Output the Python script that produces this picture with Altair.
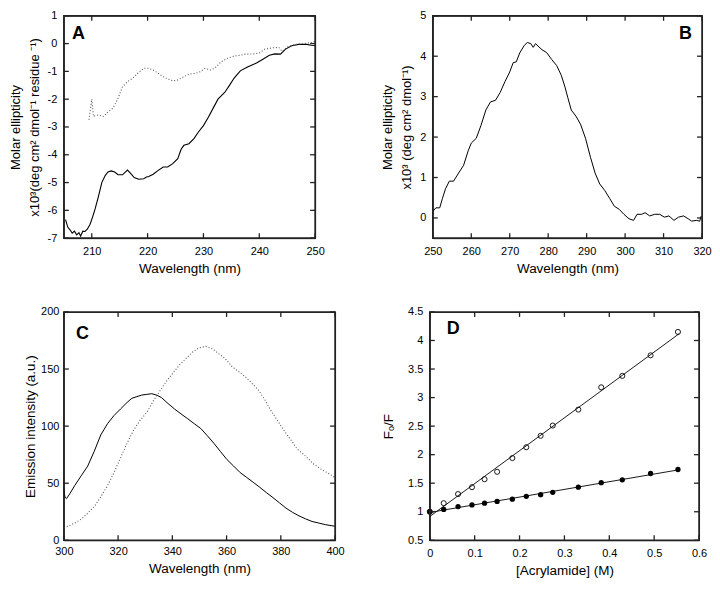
import altair as alt
import pandas as pd

# ---------------- Panel A (far-UV CD) ----------------
a_wl_solid = [205.3, 205.7, 206.1, 206.5, 206.9, 207.3, 207.7, 208.0, 208.4, 208.8, 209.2, 209.7,
              210.1, 210.6, 211.2, 211.8, 212.4, 212.9, 213.5, 214.1, 214.7, 215.5, 216.4, 217.0,
              217.6, 218.4, 219.3, 219.8, 220.2, 221.0, 221.9, 222.8, 223.6, 224.5, 225.4, 226.0,
              226.5, 227.4, 228.3, 229.1, 230.0, 230.9, 231.7, 232.6, 233.8, 234.6, 235.5, 236.6,
              237.8, 238.9, 239.5, 240.5, 241.8, 242.8, 243.8, 244.7, 245.8, 247.0, 248.5, 249.3, 250.0]
a_val_solid = [-6.33, -6.6, -6.7, -6.82, -6.75, -6.88, -6.8, -6.93, -6.75, -6.76, -6.68, -6.5,
               -6.27, -5.95, -5.5, -5.0, -4.75, -4.62, -4.58, -4.62, -4.72, -4.72, -4.55, -4.68,
               -4.82, -4.88, -4.86, -4.8, -4.78, -4.7, -4.56, -4.44, -4.44, -4.32, -4.14, -3.8,
               -3.66, -3.6, -3.42, -3.18, -2.95, -2.64, -2.34, -2.0, -1.76, -1.52, -1.24, -0.98,
               -0.85, -0.75, -0.7, -0.58, -0.42, -0.37, -0.38, -0.2, -0.08, -0.03, -0.03, -0.06, -0.07]
a_wl_dot = [209.5, 210.0, 210.3, 211.2, 212.1, 213.0, 213.8, 214.7, 215.5, 216.4, 217.3, 218.2,
            219.3, 220.2, 221.0, 221.9, 222.8, 223.6, 224.5, 225.4, 226.2, 227.4, 228.6, 229.4,
            230.3, 231.2, 232.0, 233.2, 234.3, 235.5, 236.6, 237.5, 239.0, 240.0, 241.0, 242.5,
            243.5, 244.1, 245.0, 246.5, 248.0, 249.0, 250.0]
a_val_dot = [-2.74, -2.0, -2.62, -2.56, -2.62, -2.44, -2.32, -1.97, -1.55, -1.37, -1.25, -1.07,
             -0.89, -0.89, -0.95, -1.07, -1.19, -1.27, -1.34, -1.31, -1.22, -1.1, -1.07, -1.01,
             -0.89, -0.95, -0.89, -0.65, -0.53, -0.45, -0.42, -0.38, -0.37, -0.34, -0.2, -0.15,
             -0.14, -0.28, -0.12, -0.03, 0.0, 0.03, 0.08]

# ---------------- Panel B (near-UV CD) ----------------
b_wl = [250.0, 250.8, 251.8, 252.5, 253.3, 254.3, 255.4, 256.7, 258.0, 259.2, 260.0, 261.3,
        262.5, 263.8, 265.0, 266.3, 267.5, 268.8, 270.0, 270.9, 271.7, 272.6, 273.8, 274.6,
        275.5, 276.1, 276.7, 277.6, 278.4, 279.6, 280.9, 282.2, 283.4, 284.3, 285.1, 286.0,
        287.2, 288.4, 289.7, 291.0, 292.2, 293.4, 294.7, 296.0, 297.2, 298.5, 299.7, 301.0,
        302.2, 303.1, 304.3, 305.2, 306.4, 307.7, 309.0, 310.2, 311.4, 312.7, 313.9, 315.2,
        316.4, 317.3, 318.5, 319.4, 319.8]
b_val = [0.16, 0.25, 0.25, 0.48, 0.72, 0.91, 0.91, 1.11, 1.3, 1.66, 1.85, 1.97,
         2.28, 2.67, 2.87, 2.91, 3.1, 3.38, 3.61, 3.84, 3.86, 4.08, 4.27, 4.34,
         4.31, 4.22, 4.31, 4.23, 4.16, 4.09, 3.92, 3.77, 3.53, 3.26, 2.98, 2.67,
         2.52, 2.32, 1.97, 1.5, 1.11, 0.84, 0.68, 0.48, 0.29, 0.21, 0.09, -0.02,
         -0.06, 0.09, 0.09, 0.13, 0.05, 0.09, 0.09, 0.02, 0.05, -0.06, 0.02, 0.05,
         -0.02, -0.08, -0.06, -0.08, 0.05]

# ---------------- Panel C (fluorescence emission) ----------------
c_wl_solid = [300.0, 300.4, 301.0, 302.2, 304.0, 306.4, 308.8, 311.2, 313.6, 316.1, 318.5, 320.9,
              323.3, 325.1, 326.9, 328.7, 330.6, 332.4, 334.2, 336.0, 338.4, 340.8, 343.2, 345.7,
              348.1, 350.5, 352.9, 355.3, 357.7, 360.1, 362.6, 365.0, 367.4, 369.8, 372.2, 374.6,
              377.1, 379.5, 381.9, 384.3, 386.7, 389.1, 391.5, 394.0, 396.4, 400.0]
c_val_solid = [45.1, 37.9, 36.5, 40.8, 47.9, 56.5, 65.0, 77.9, 92.2, 102.1, 109.3, 115.0,
               120.7, 124.4, 125.8, 127.2, 127.8, 128.4, 127.2, 125.0, 119.8, 115.0, 110.7, 106.4,
               102.1, 97.9, 91.6, 85.0, 77.9, 70.8, 65.0, 59.3, 55.1, 50.8, 46.5, 41.9,
               37.4, 32.8, 28.2, 24.5, 21.4, 18.8, 16.5, 15.1, 13.7, 12.3]
c_wl_dot = [300.0, 301.6, 304.0, 306.4, 308.8, 311.2, 313.6, 316.1, 318.5, 320.9, 323.3, 325.7,
            328.1, 330.6, 333.0, 335.4, 337.8, 340.2, 342.6, 345.0, 347.5, 349.9, 352.3, 354.7,
            357.1, 359.5, 362.0, 364.4, 366.8, 369.2, 371.6, 374.0, 376.5, 379.0, 381.5, 384.0,
            386.0, 389.0, 392.0, 395.0, 398.0, 400.0]
c_val_dot = [11.4, 12.3, 15.1, 18.5, 23.7, 29.4, 37.9, 47.9, 59.3, 72.2, 85.0, 96.4,
             105.0, 112.1, 122.1, 130.7, 139.2, 146.4, 153.5, 159.2, 164.9, 168.6, 169.8, 167.8,
             163.5, 159.2, 152.1, 147.8, 143.5, 137.8, 132.1, 123.5, 113.0, 104.0, 95.0, 87.0,
             80.0, 74.0, 67.0, 62.0, 58.0, 55.0]

# ---------------- Panel D (Stern-Volmer) ----------------
d_conc = [0.0, 0.031, 0.063, 0.094, 0.122, 0.150, 0.184, 0.215, 0.247, 0.274, 0.331, 0.382, 0.429, 0.492, 0.553]
d_open = [1.0, 1.15, 1.31, 1.43, 1.57, 1.70, 1.94, 2.13, 2.33, 2.51, 2.79, 3.18, 3.38, 3.74, 4.15]
d_filled = [1.0, 1.04, 1.09, 1.12, 1.15, 1.18, 1.22, 1.27, 1.30, 1.34, 1.43, 1.51, 1.56, 1.67, 1.74]

# ---------------- axis domains, ticks and labels ----------------
xa_dom, ya_dom = [205, 250], [-7, 1]
xb_dom, yb_dom = [250, 320], [-0.5, 5]
xc_dom, yc_dom = [300, 400], [0, 200]
xd_dom, yd_dom = [0, 0.6], [0.5, 4.5]
xa_t = [210, 220, 230, 240, 250]
ya_t = [-7, -6, -5, -4, -3, -2, -1, 0, 1]
xb_t = [250, 260, 270, 280, 290, 300, 310, 320]
yb_t = [0, 1, 2, 3, 4, 5]
xc_t = [300, 320, 340, 360, 380, 400]
yc_t = [0, 50, 100, 150, 200]
xd_t = [0, 0.1, 0.2, 0.3, 0.4, 0.5, 0.6]
yd_t = [0.5, 1, 1.5, 2, 2.5, 3, 3.5, 4, 4.5]

panel_letters = ["A", "B", "C", "D"]
letter_x = [207.6, 315.7, 306.9, 0.052]
letter_y = [0.34, 4.54, 181.0, 4.2]

FONT = "Liberation Sans"
LAB = 11
TIT = 13.5
PLAIN = "datum.value + ''"
TICK_PX = 5


def axis_main(orient, ticks, title, label_pad=7, title_pad=5, line_h=None, tsize=TIT):
    kw = dict(orient=orient, values=ticks, offset=0, ticks=False, domain=False, grid=False,
              labelPadding=label_pad, titlePadding=title_pad, labelFontSize=LAB,
              titleFontSize=tsize, titleFontWeight="normal", labelColor="black",
              titleColor="black", labelFont=FONT, titleFont=FONT,
              labelOverlap=False, labelFlush=False, labelExpr=PLAIN, minExtent=0,
              title=title)
    if line_h:
        kw["titleLineHeight"] = line_h
    return alt.Axis(**kw)


def furniture(i, xs, ys, xdom, ydom, xt, yt, W, H):
    """Frame and inward ticks drawn through the panel's own scales."""
    x0, x1 = xdom
    y0, y1 = ydom
    dx = TICK_PX / W * (x1 - x0)
    dy = TICK_PX / H * (y1 - y0)
    box_df = pd.DataFrame({"xa": [x0], "xb": [x1], "ya": [y0], "yb": [y1]})
    box = alt.Chart(box_df).mark_rect(fillOpacity=0, stroke="#222222", strokeWidth=1.6,
                                      strokeOpacity=1).encode(
        x=alt.X("xa:Q", scale=xs, axis=None), x2="xb:Q",
        y=alt.Y("ya:Q", scale=ys, axis=None), y2="yb:Q")
    rows = []
    k = 0
    for t in xt:
        rows += [(t, y0, k, 0), (t, y0 + dy, k, 1)]
        k += 1
        rows += [(t, y1, k, 0), (t, y1 - dy, k, 1)]
        k += 1
    for t in yt:
        rows += [(x0, t, k, 0), (x0 + dx, t, k, 1)]
        k += 1
        rows += [(x1, t, k, 0), (x1 - dx, t, k, 1)]
        k += 1
    tick_df = pd.DataFrame(rows, columns=["x", "y", "id", "o"])
    ticks = alt.Chart(tick_df).mark_line(color="#222222", strokeWidth=1.3).encode(
        x=alt.X("x:Q", scale=xs, axis=None), y=alt.Y("y:Q", scale=ys, axis=None),
        detail="id:N", order="o:Q")
    dfl = pd.DataFrame({"x": [letter_x[i]], "y": [letter_y[i]], "t": [panel_letters[i]]})
    letter = alt.Chart(dfl).mark_text(font=FONT, fontSize=18, fontWeight="bold", color="black").encode(
        x=alt.X("x:Q", scale=xs, axis=None), y=alt.Y("y:Q", scale=ys, axis=None), text="t:N")
    return [box, ticks, letter]


# ---- Panel A
WA, HA = 252, 223
xa = alt.Scale(domain=xa_dom, nice=False, zero=False)
ya = alt.Scale(domain=ya_dom, nice=False, zero=False)
dfa1 = pd.DataFrame({"wl": a_wl_solid, "v": a_val_solid})
dfa2 = pd.DataFrame({"wl": a_wl_dot, "v": a_val_dot})
A1 = alt.Chart(dfa1).mark_line(color="black", strokeWidth=1.1).encode(
    x=alt.X("wl:Q", scale=xa, axis=axis_main("bottom", xa_t, "Wavelength (nm)")),
    y=alt.Y("v:Q", scale=ya, axis=axis_main("left", ya_t,
            ["Molar ellipticity", "x10³(deg cm² dmol⁻¹ residue ⁻¹)"], title_pad=6, line_h=19, tsize=13)))
A2 = alt.Chart(dfa2).mark_line(color="#555555", strokeWidth=1.1, strokeDash=[1, 2]).encode(
    x=alt.X("wl:Q", scale=xa, axis=None), y=alt.Y("v:Q", scale=ya, axis=None))
chartA = alt.layer(A1, A2, *furniture(0, xa, ya, xa_dom, ya_dom, xa_t, ya_t, WA, HA)).resolve_axis(
    x="independent", y="independent").properties(width=WA, height=HA)

# ---- Panel B
WB, HB = 270, 223
xb = alt.Scale(domain=xb_dom, nice=False, zero=False)
yb = alt.Scale(domain=yb_dom, nice=False, zero=False)
dfb = pd.DataFrame({"wl": b_wl, "v": b_val})
B1 = alt.Chart(dfb).mark_line(color="black", strokeWidth=1.0).encode(
    x=alt.X("wl:Q", scale=xb, axis=axis_main("bottom", xb_t, "Wavelength (nm)")),
    y=alt.Y("v:Q", scale=yb, axis=axis_main("left", yb_t,
            ["Molar ellipticity", "x10³ (deg cm² dmol⁻¹)"], title_pad=6, line_h=19, tsize=13)))
chartB = alt.layer(B1, *furniture(1, xb, yb, xb_dom, yb_dom, xb_t, yb_t, WB, HB)).resolve_axis(
    x="independent", y="independent").properties(width=WB, height=HB)

# ---- Panel C
WC, HC = 272, 229
xc = alt.Scale(domain=xc_dom, nice=False, zero=False)
yc = alt.Scale(domain=yc_dom, nice=False, zero=False)
dfc1 = pd.DataFrame({"wl": c_wl_solid, "v": c_val_solid})
dfc2 = pd.DataFrame({"wl": c_wl_dot, "v": c_val_dot})
C1 = alt.Chart(dfc1).mark_line(color="black", strokeWidth=1.0).encode(
    x=alt.X("wl:Q", scale=xc, axis=axis_main("bottom", xc_t, "Wavelength (nm)", label_pad=5)),
    y=alt.Y("v:Q", scale=yc, axis=axis_main("left", yc_t, "Emission intensity (a.u.)",
                                             label_pad=5, title_pad=3)))
C2 = alt.Chart(dfc2).mark_line(color="#555555", strokeWidth=1.1, strokeDash=[1, 2]).encode(
    x=alt.X("wl:Q", scale=xc, axis=None), y=alt.Y("v:Q", scale=yc, axis=None))
chartC = alt.layer(C1, C2, *furniture(2, xc, yc, xc_dom, yc_dom, xc_t, yc_t, WC, HC)).resolve_axis(
    x="independent", y="independent").properties(width=WC, height=HC)

# ---- Panel D
WD, HD = 270, 229
xd = alt.Scale(domain=xd_dom, nice=False, zero=False)
yd = alt.Scale(domain=yd_dom, nice=False, zero=False)
dfd = pd.DataFrame({"c": d_conc, "open": d_open, "filled": d_filled})
D3 = alt.Chart(dfd).transform_regression("c", "open", extent=[0, 0.556]).mark_line(
    color="black", strokeWidth=0.9).encode(
    x=alt.X("c:Q", scale=xd, axis=axis_main("bottom", xd_t, "[Acrylamide] (M)", label_pad=7, title_pad=5)),
    y=alt.Y("open:Q", scale=yd, axis=axis_main("left", yd_t, "Fₒ/F", title_pad=12)))
D4 = alt.Chart(dfd).transform_regression("c", "filled", extent=[0, 0.556]).mark_line(
    color="black", strokeWidth=0.9).encode(
    x=alt.X("c:Q", scale=xd, axis=None), y=alt.Y("filled:Q", scale=yd, axis=None))
D1 = alt.Chart(dfd).mark_point(shape="circle", filled=False, color="black", size=26, strokeWidth=0.9,
                               opacity=1).encode(
    x=alt.X("c:Q", scale=xd, axis=None), y=alt.Y("open:Q", scale=yd, axis=None))
D2 = alt.Chart(dfd).mark_circle(color="black", size=28, opacity=1).encode(
    x=alt.X("c:Q", scale=xd, axis=None), y=alt.Y("filled:Q", scale=yd, axis=None))
chartD = alt.layer(D3, D4, D1, D2, *furniture(3, xd, yd, xd_dom, yd_dom, xd_t, yd_t, WD, HD)).resolve_axis(
    x="independent", y="independent").properties(width=WD, height=HD)

chart = alt.concat(chartA, chartB, chartC, chartD, columns=2, align="none",
                   spacing={"row": 30, "column": 36}).properties(padding=0).configure(
    font=FONT, background="white", view=alt.ViewConfig(stroke="#222222", strokeWidth=1))

chart.save("out.html", embed_options={"renderer": "svg", "actions": False})
